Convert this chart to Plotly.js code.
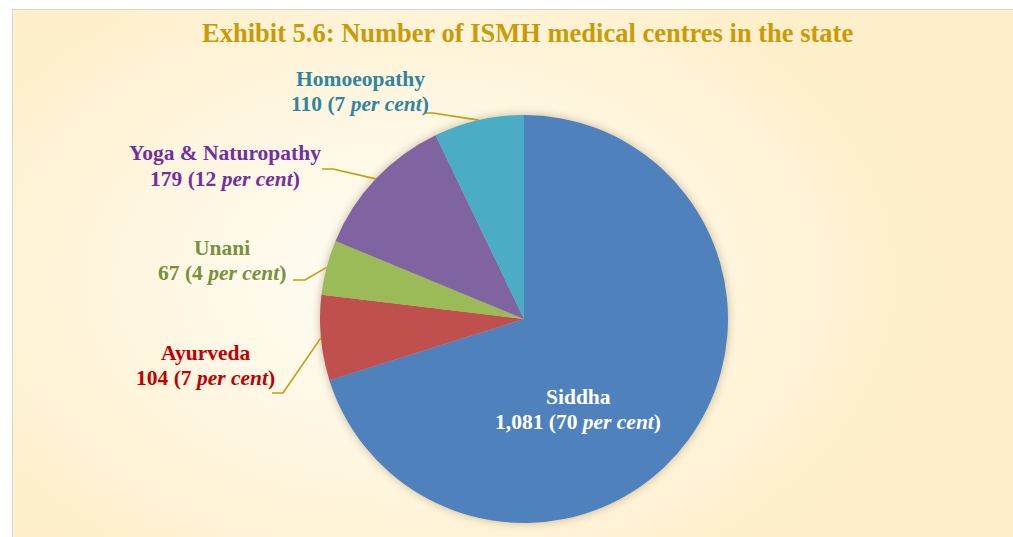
<!DOCTYPE html>
<html>
<head>
<meta charset="utf-8">
<script src="https://cdn.plot.ly/plotly-3.0.1.min.js"></script>
<style>
  html, body { margin: 0; padding: 0; background: #ffffff; overflow: hidden; }
  #frame {
    position: absolute; left: 12px; top: 9px; width: 1020px; height: 540px;
    border: 1.5px solid #d4d4d4;
    background: radial-gradient(ellipse 620px 420px at 400px 270px, #fffdf7 0%, #fff8e6 35%, #fff0cc 80%, #fff0cb 100%);
  }
  #chart { position: absolute; left: 0; top: 0; width: 1013px; height: 537px; }
  .pielayer { filter: drop-shadow(0px 0px 5px rgba(90,70,20,0.35)); }
</style>
</head>
<body>
<div id="frame"></div>
<div id="chart"></div>
<script>
// ---- data ----
const categories = ["Siddha", "Ayurveda", "Unani", "Yoga & Naturopathy", "Homoeopathy"];
const centres = [1081, 104, 67, 179, 110];
const sliceColors = ["#4F81BD", "#C0504D", "#9BBB59", "#8064A2", "#4BACC6"];
const labelColors = ["#FFFFFF", "#C00000", "#76923C", "#7030A0", "#31859C"];
const titleText = "Exhibit 5.6: Number of ISMH medical centres in the state";

// ---- layout constants (pixels) ----
const W = 1013, H = 537;
const CX = 524, CY = 319, R = 204;
// label centres (px): [x, y of line 1, y of line 2]
const labelPos = [[578, 397, 422], [205, 353, 378], [222, 248, 273], [225, 153, 179], [360, 79, 104]];
// leader bend points (px); null = inside label, no leader
const bendPts = [null, [[283, 393], [272, 393]], [[305, 280], [293, 280]], [[333, 169], [322, 169]], [[433, 113], [425, 113]]];

const px = x => x / W;
const py = y => 1 - y / H;
const FONT = "Liberation Serif, Times New Roman, serif";

const total = centres.reduce((a, b) => a + b, 0);

const trace = {
  type: "pie",
  labels: categories,
  values: centres,
  sort: false,
  direction: "clockwise",
  rotation: 0,
  marker: { colors: sliceColors, line: { width: 0 } },
  textinfo: "none",
  hoverinfo: "label+value+percent",
  showlegend: false,
  domain: { x: [px(CX - R), px(CX + R)], y: [py(CY + R), py(CY - R)] }
};

const annotations = [{
  text: "<b>" + titleText + "</b>",
  x: px(527), y: py(33), xref: "paper", yref: "paper",
  xanchor: "center", yanchor: "middle", showarrow: false,
  font: { family: FONT, size: 26.5, color: "#C99B06" }
}];
const shapes = [];

let cum = 0;
categories.forEach((cat, i) => {
  const v = centres[i];
  const frac = v / total;
  const pct = Math.round(frac * 100);
  const mid = (cum + frac / 2) * 2 * Math.PI;
  cum += frac;
  const lines = ["<b>" + cat + "</b>", "<b>" + v.toLocaleString("en-US") + " (" + pct + " <i>per cent</i>)</b>"];
  lines.forEach((t, k) => {
    annotations.push({
      text: t,
      x: px(labelPos[i][0]), y: py(labelPos[i][1 + k]), xref: "paper", yref: "paper",
      xanchor: "center", yanchor: "middle", align: "center", showarrow: false,
      font: { family: FONT, size: 21.5, color: labelColors[i] }
    });
  });
  if (bendPts[i]) {
    const ex = CX + R * Math.sin(mid), ey = CY - R * Math.cos(mid);
    const b = bendPts[i];
    shapes.push({
      type: "path", xref: "paper", yref: "paper",
      path: "M " + px(ex) + "," + py(ey) + " L " + px(b[0][0]) + "," + py(b[0][1]) + " L " + px(b[1][0]) + "," + py(b[1][1]),
      line: { color: "#C99B06", width: 1.6 }
    });
  }
});

const layout = {
  width: W, height: H,
  margin: { l: 0, r: 0, t: 0, b: 0 },
  paper_bgcolor: "rgba(0,0,0,0)",
  plot_bgcolor: "rgba(0,0,0,0)",
  showlegend: false,
  annotations: annotations,
  shapes: shapes
};

Plotly.newPlot("chart", [trace], layout, { displayModeBar: false, staticPlot: true });
</script>
</body>
</html>
